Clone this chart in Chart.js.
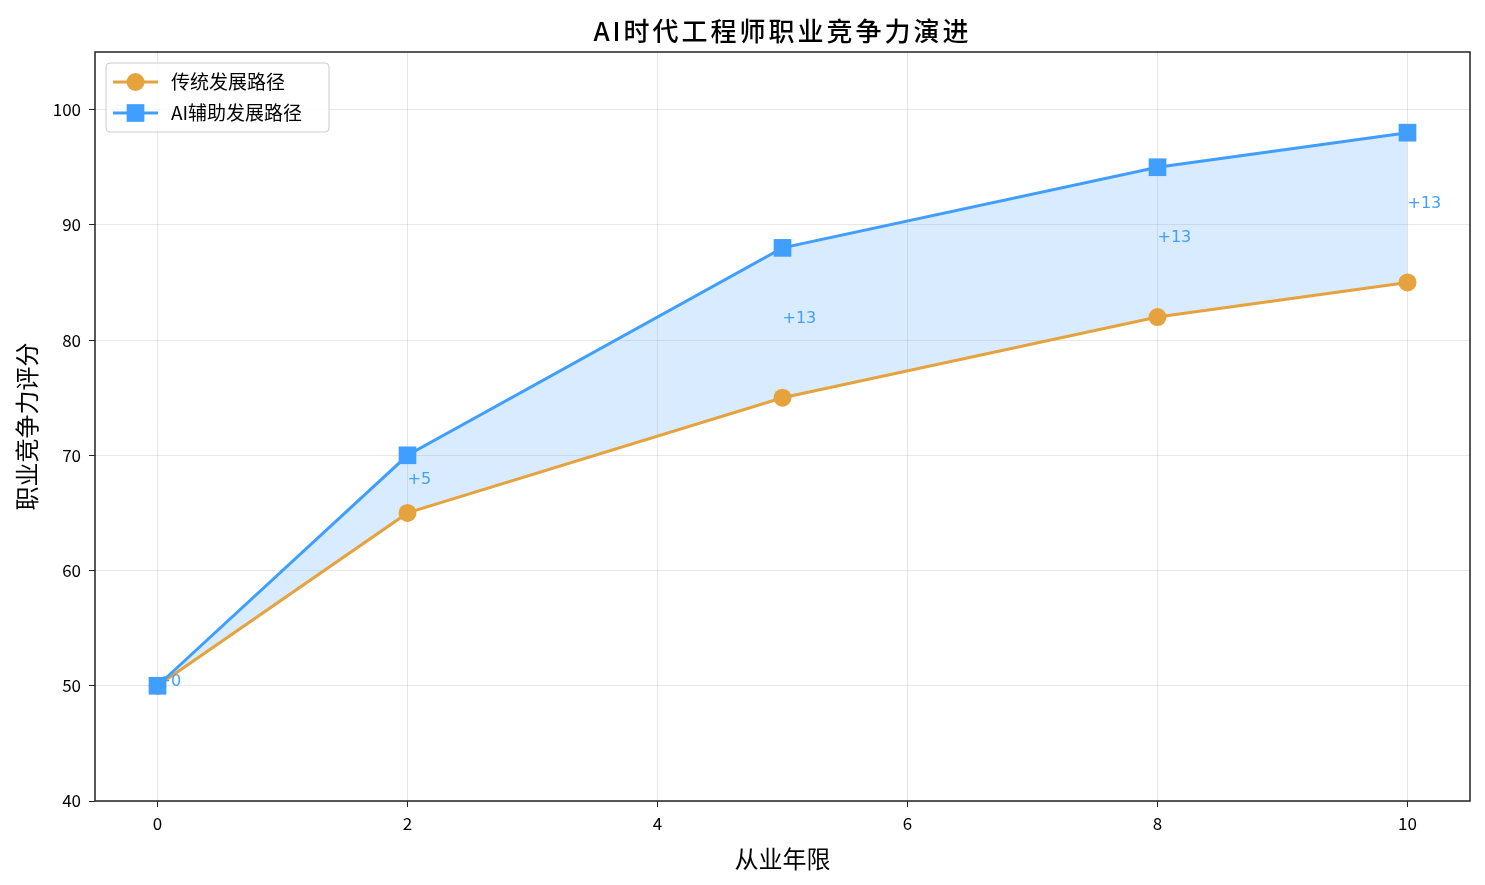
<!DOCTYPE html>
<html>
<head>
<meta charset="utf-8">
<script src="https://cdn.jsdelivr.net/npm/chart.js@4.4.1/dist/chart.umd.min.js"></script>
<style>
  html, body { margin: 0; padding: 0; background: #fff; }
  canvas { display: block; }
</style>
</head>
<body>
<canvas id="chart" width="1485" height="885"></canvas>
<script>
// data
const years = [0, 2, 5, 8, 10];
const traditional = [50, 65, 75, 82, 85];
const aiAssisted = [50, 70, 88, 95, 98];
const xTicks = [0, 2, 4, 6, 8, 10];
const yTicks = [40, 50, 60, 70, 80, 90, 100];
const seriesNames = ["传统发展路径", "AI辅助发展路径"];
const chartTitle = "AI时代工程师职业竞争力演进";
const xTitle = "从业年限";
const yTitle = "职业竞争力评分";

const ORANGE = "#E6A23C";
const BLUE = "#409EFF";
const CJK = '"Noto Sans CJK SC", "Noto Sans", sans-serif';

Chart.defaults.font.family = CJK;
Chart.defaults.color = "#000";

// title, frame, gap labels and legend drawn on top of the chart
const extras = {
    id: "extras",
    afterDatasetsDraw(chart) {
        const ctx = chart.ctx;
        const xs = chart.scales.x;
        const ys = chart.scales.y;
        const area = chart.chartArea;

        // gap annotations
        ctx.save();
        ctx.font = '16px "DejaVu Sans", sans-serif';
        ctx.fillStyle = BLUE;
        ctx.textAlign = "left";
        ctx.textBaseline = "alphabetic";
        years.forEach((yr, i) => {
            const diff = aiAssisted[i] - traditional[i];
            const mid = (aiAssisted[i] + traditional[i]) / 2;
            ctx.fillText("+" + diff, xs.getPixelForValue(yr), ys.getPixelForValue(mid));
        });
        ctx.restore();

        // frame
        ctx.save();
        ctx.strokeStyle = "#222";
        ctx.lineWidth = 1.5;
        ctx.strokeRect(area.left, area.top, area.right - area.left, area.bottom - area.top);
        ctx.restore();

        // title
        ctx.save();
        ctx.font = "500 26px " + CJK;
        ctx.letterSpacing = "3px";
        ctx.fillStyle = "#000";
        ctx.textAlign = "center";
        ctx.textBaseline = "middle";
        ctx.fillText(chartTitle, (area.left + area.right) / 2, 31);
        ctx.restore();

        // legend
        ctx.save();
        const bx = area.left + 11, by = area.top + 11, bw = 223, bh = 69;
        ctx.beginPath();
        ctx.roundRect(bx, by, bw, bh, 4);
        ctx.fillStyle = "rgba(255,255,255,0.8)";
        ctx.fill();
        ctx.strokeStyle = "#cccccc";
        ctx.lineWidth = 1;
        ctx.stroke();
        const rows = [
            { name: seriesNames[0], color: ORANGE, style: "circle", r: 9 },
            { name: seriesNames[1], color: BLUE, style: "rect", r: 12.5 }
        ];
        rows.forEach((row, i) => {
            const cy = by + 19 + i * 31;
            ctx.strokeStyle = row.color;
            ctx.lineWidth = 3;
            ctx.beginPath();
            ctx.moveTo(bx + 7, cy);
            ctx.lineTo(bx + 52, cy);
            ctx.stroke();
            ctx.fillStyle = row.color;
            Chart.helpers.drawPoint(ctx, { pointStyle: row.style, radius: row.r, borderWidth: 0 }, bx + 29.5, cy);
            ctx.fillStyle = "#000";
            ctx.font = "19px " + CJK;
            ctx.textAlign = "left";
            ctx.textBaseline = "middle";
            ctx.fillText(row.name, bx + 65, cy);
        });
        ctx.restore();
    }
};

const ctx = document.getElementById("chart").getContext("2d");
new Chart(ctx, {
    type: "line",
    data: {
        datasets: [
            {
                label: seriesNames[0],
                data: years.map((yr, i) => ({ x: yr, y: traditional[i] })),
                borderColor: ORANGE,
                backgroundColor: ORANGE,
                borderWidth: 3,
                pointStyle: "circle",
                pointRadius: 9,
                pointHoverRadius: 9,
                pointBorderWidth: 0,
                pointBackgroundColor: ORANGE,
                fill: false,
                tension: 0,
                order: 2
            },
            {
                label: seriesNames[1],
                data: years.map((yr, i) => ({ x: yr, y: aiAssisted[i] })),
                borderColor: BLUE,
                backgroundColor: "rgba(64,158,255,0.2)",
                borderWidth: 3,
                pointStyle: "rect",
                pointRadius: 12.5,
                pointHoverRadius: 12.5,
                pointBorderWidth: 0,
                pointBackgroundColor: BLUE,
                fill: "-1",
                tension: 0,
                order: 1
            }
        ]
    },
    options: {
        responsive: false,
        animation: false,
        devicePixelRatio: 1,
        layout: { padding: { top: 52, right: 15, left: 0, bottom: 0 } },
        plugins: {
            legend: { display: false },
            tooltip: { enabled: false },
            filler: { drawTime: "beforeDatasetsDraw" }
        },
        scales: {
            x: {
                type: "linear",
                min: -0.5,
                max: 10.5,
                afterBuildTicks: s => { s.ticks = xTicks.map(v => ({ value: v })); },
                afterFit: s => { s.height = 84; },
                grid: { color: "rgba(176,176,176,0.3)", tickColor: "#222", tickLength: 6 },
                border: { display: false },
                ticks: { font: { size: 17 }, color: "#000", padding: 6, maxRotation: 0 },
                title: { display: true, text: xTitle, font: { size: 24 }, padding: { top: 0, bottom: 12 } }
            },
            y: {
                min: 40,
                max: 105,
                afterBuildTicks: s => { s.ticks = yTicks.map(v => ({ value: v })); },
                afterFit: s => { s.width = 95; },
                grid: { color: "rgba(176,176,176,0.3)", tickColor: "#222", tickLength: 6 },
                border: { display: false },
                ticks: { font: { size: 17 }, color: "#000", padding: 8 },
                title: { display: true, text: yTitle, font: { size: 24 }, padding: { top: 12, bottom: 0 } }
            }
        }
    },
    plugins: [extras]
});
</script>
</body>
</html>
